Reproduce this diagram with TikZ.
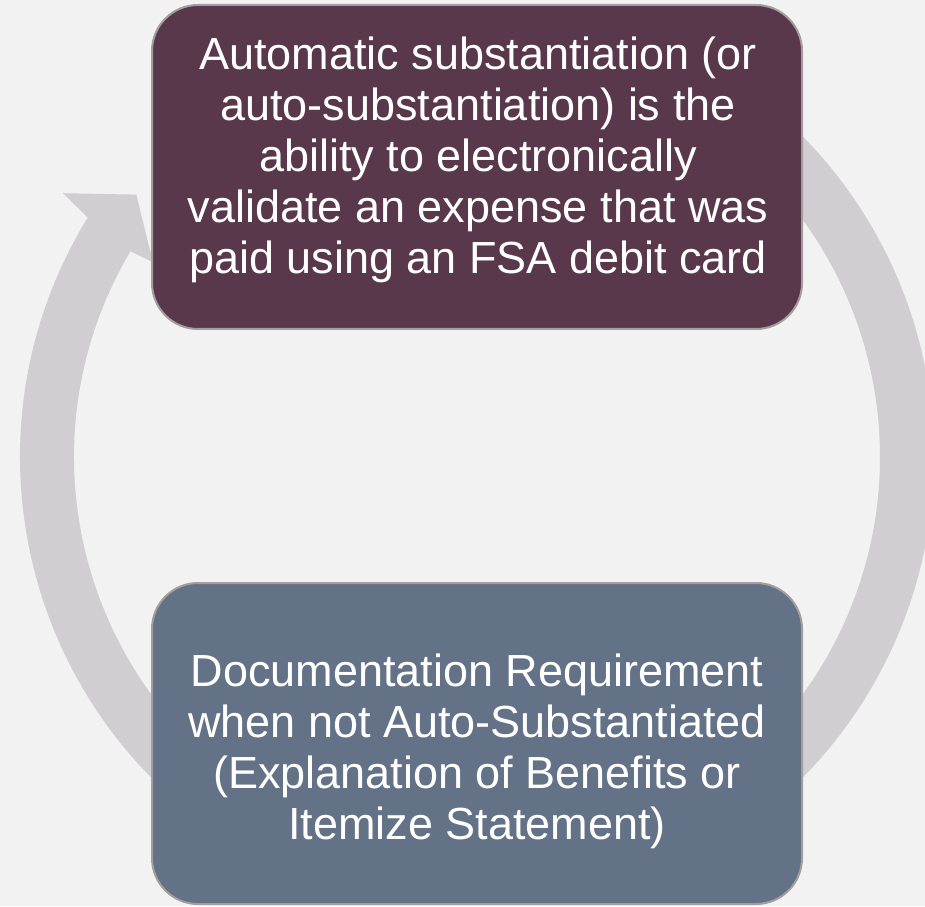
\documentclass[tikz,border=0pt]{standalone}
\usepackage{fontspec}
\setmainfont{Liberation Sans}
\usetikzlibrary{calc}
\definecolor{bgcol}{HTML}{F2F2F2}
\definecolor{ringcol}{HTML}{D0CED0}
\definecolor{topcol}{HTML}{59384B}
\definecolor{botcol}{HTML}{637287}
\definecolor{edgecol}{HTML}{A39E9E}
\begin{document}
\begin{tikzpicture}[x=1pt,y=1pt,
  ring/.style={fill=ringcol},
  card/.style={draw=edgecol, line width=2pt, rounded corners=46pt,
    minimum width=650pt, inner sep=0pt},
  cardtext/.style={inner sep=0pt, text=white, align=center,
    font=\fontsize{45}{51}\selectfont}]
\fill[bgcol] (0,0) rectangle (925,906);
\useasboundingbox (0,0) rectangle (925,906);
\coordinate (c) at (477,449);
% left arc, rising to the upper card
\fill[ring] ($(c)+(235:457)$) arc[start angle=235, end angle=148.4, radius=457]
  -- ($(c)+(147.5:491)$) -- ($(c)+(142.4:430)$) -- ($(c)+(149.0:378)$)
  -- ($(c)+(149.3:403)$) arc[start angle=149.3, end angle=235, radius=403] -- cycle;
% right arc, descending to the lower card
\fill[ring] ($(c)+(60:457)$) arc[start angle=60, end angle=-50, radius=457]
  -- ($(c)+(-50.5:491)$) -- ($(c)+(-55.8:430)$) -- ($(c)+(-49.0:378)$)
  -- ($(c)+(-49.5:403)$) arc[start angle=-49.5, end angle=60, radius=403] -- cycle;
% the two cards
\node[card, fill=topcol, minimum height=324pt] (auto) at (477,739) {};
\node[card, fill=botcol, minimum height=321pt] (docs) at (477,162.5) {};
\node[cardtext] (autotext) at ($(auto.center)+(1,7)$)
  {Automatic substantiation (or\\auto-substantiation) is the\\ability to electronically\\validate an expense that was\\paid using an FSA debit card};
\node[cardtext] (docstext) at ($(docs.center)+(0,-8)$)
  {Documentation Requirement\\when not Auto-Substantiated\\(Explanation of Benefits or\\Itemize Statement)};
\end{tikzpicture}
\end{document}
